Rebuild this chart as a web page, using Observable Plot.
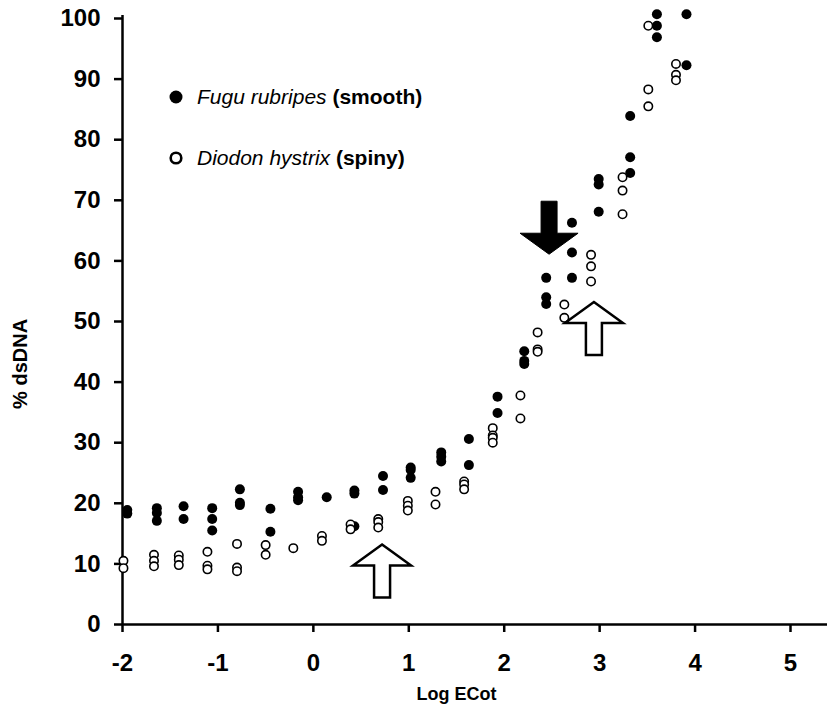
<!DOCTYPE html>
<html>
<head>
<meta charset="utf-8">
<script src="https://cdn.jsdelivr.net/npm/d3@7"></script>
<script src="https://cdn.jsdelivr.net/npm/@observablehq/plot@0.6"></script>
<style>
  body { margin: 0; background: #fff; }
  #wrap { position: relative; width: 827px; height: 720px; font-family: "Liberation Sans", Arial, sans-serif; }
  #legend { position: absolute; left: 165px; top: 82px; font-size: 21px; color: #000; }
  #legend .row { display: flex; align-items: center; height: 30px; margin-bottom: 31px; white-space: nowrap; }
  #legend svg { width: 22px; height: 22px; margin-right: 10px; }
  #legend i { font-style: italic; }
  #legend b { font-weight: bold; }
  g[aria-label="x-axis tick"], g[aria-label="y-axis tick"] { stroke-width: 2.5px; }
  g[aria-label="x-axis tick label"], g[aria-label="y-axis tick label"] { font-size: 24px; font-weight: bold; }
  .tick line { stroke-width: 2.5px; }
  .tick text { font-size: 24px; font-weight: bold; }
</style>
</head>
<body>
<div id="wrap">
  <div id="chart"></div>
  <div id="legend"></div>
</div>
<script>
// Fugu rubripes (smooth) — filled circles
const fuguLogECot = [
  -1.95, -1.95,
  -1.64, -1.64, -1.64,
  -1.36, -1.36,
  -1.06, -1.06, -1.06,
  -0.77, -0.77, -0.77,
  -0.45, -0.45,
  -0.16, -0.16, -0.16,
  0.14,
  0.43, 0.43, 0.43,
  0.73, 0.73,
  1.02, 1.02, 1.02,
  1.34, 1.34, 1.34,
  1.63, 1.63,
  1.93, 1.93,
  2.21, 2.21, 2.21,
  2.44, 2.44, 2.44,
  2.71, 2.71, 2.71,
  2.99, 2.99, 2.99,
  3.32, 3.32, 3.32,
  3.60, 3.60, 3.60,
  3.91, 3.91
];
const fuguDsDNA = [
  18.9, 18.3,
  19.2, 18.4, 17.1,
  19.5, 17.4,
  19.2, 17.4, 15.5,
  22.3, 20.1, 19.7,
  19.1, 15.3,
  21.9, 21.0, 20.5,
  21.0,
  22.1, 21.6, 16.2,
  24.5, 22.2,
  25.9, 25.5, 24.2,
  28.4, 27.7, 26.9,
  30.6, 26.3,
  37.6, 34.9,
  45.1, 43.5, 43.0,
  57.2, 54.0, 52.9,
  66.3, 61.4, 57.2,
  73.5, 72.6, 68.1,
  83.9, 77.1, 74.5,
  100.7, 98.8, 96.9,
  100.7, 92.3
];
// Diodon hystrix (spiny) — open circles
const diodonLogECot = [
  -1.99, -1.99,
  -1.67, -1.67, -1.67,
  -1.41, -1.41, -1.41,
  -1.11, -1.11, -1.11,
  -0.80, -0.80, -0.80,
  -0.50, -0.50,
  -0.21,
  0.09, 0.09,
  0.39, 0.39,
  0.68, 0.68, 0.68,
  0.99, 0.99, 0.99,
  1.28, 1.28,
  1.58, 1.58, 1.58,
  1.88, 1.88, 1.88, 1.88,
  2.17, 2.17,
  2.35, 2.35, 2.35,
  2.63, 2.63,
  2.91, 2.91, 2.91,
  3.24, 3.24, 3.24,
  3.51, 3.51, 3.51,
  3.80, 3.80, 3.80
];
const diodonDsDNA = [
  10.5, 9.3,
  11.5, 10.5, 9.6,
  11.4, 10.7, 9.8,
  12.0, 9.7, 9.1,
  13.3, 9.4, 8.8,
  13.1, 11.5,
  12.6,
  14.6, 13.8,
  16.5, 15.7,
  17.4, 16.9, 16.0,
  20.4, 19.6, 18.8,
  21.9, 19.8,
  23.6, 23.1, 22.3,
  32.4, 31.2, 30.8, 30.0,
  37.8, 34.0,
  48.2, 45.4, 45.0,
  52.8, 50.6,
  61.0, 59.1, 56.6,
  73.8, 71.6, 67.7,
  98.8, 88.3, 85.5,
  92.5, 90.7, 89.8
];
// Arrow annotations (tip positions, data units)
const openArrowLogECot = [0.72, 2.94];
const openArrowDsDNA = [13.2, 53.2];
const filledArrowLogECot = [2.47];
const filledArrowDsDNA = [61.1];

const xTicks = [-2, -1, 0, 1, 2, 3, 4, 5];
const yTicks = [0, 10, 20, 30, 40, 50, 60, 70, 80, 90, 100];
const xLabel = "Log ECot";
const yLabel = "% dsDNA";
const legendSpecies = ["Fugu rubripes", "Diodon hystrix"];
const legendTraits = ["(smooth)", "(spiny)"];

const fugu = fuguLogECot.map((x, i) => ({x, y: fuguDsDNA[i]}));
const diodon = diodonLogECot.map((x, i) => ({x, y: diodonDsDNA[i]}));
const openArrows = openArrowLogECot.map((x, i) => ({x, y: openArrowDsDNA[i]}));
const filledArrows = filledArrowLogECot.map((x, i) => ({x, y: filledArrowDsDNA[i]}));

function arrowSymbol(dir) {
  return {
    draw(ctx) {
      const s = dir; // 1 = pointing up, -1 = pointing down (tip at origin)
      ctx.moveTo(0, 0);
      ctx.lineTo(29, 21 * s);
      ctx.lineTo(8, 21 * s);
      ctx.lineTo(8, 53 * s);
      ctx.lineTo(-8, 53 * s);
      ctx.lineTo(-8, 21 * s);
      ctx.lineTo(-29, 21 * s);
      ctx.closePath();
    }
  };
}

const W = 827, H = 720, ML = 122, MR = 0, MT = 18, MB = 96;
const pxPerUnit = 668 / 7;
const xMax = 5 + (W - MR - (ML + 668)) / pxPerUnit;

const chart = Plot.plot({
  width: W,
  height: H,
  marginLeft: ML,
  marginRight: MR,
  marginTop: MT,
  marginBottom: MB,
  style: {fontFamily: "'Liberation Sans', Arial, sans-serif", fontSize: "24px", fontWeight: "bold", color: "#000", background: "#fff"},
  x: {domain: [-2, xMax], ticks: xTicks, tickFormat: d => `${d}`, tickSize: 8, tickPadding: 21, label: null},
  y: {domain: [0, 100], ticks: yTicks, tickFormat: d => `${d}`, tickSize: 8, tickPadding: 14, label: null},
  marks: [
    Plot.ruleY([0], {stroke: "#000", strokeWidth: 2.5}),
    Plot.ruleX([-2], {y1: 0, y2: 100.5, stroke: "#000", strokeWidth: 2.5}),
    Plot.dot(fugu, {x: "x", y: "y", r: 5, fill: "#000", stroke: "none"}),
    Plot.dot(diodon, {x: "x", y: "y", r: 4.2, fill: "#fff", stroke: "#000", strokeWidth: 1.6}),
    Plot.dot(openArrows, {x: "x", y: "y", r: 5, symbol: arrowSymbol(1), fill: "#fff", stroke: "#000", strokeWidth: 2.5}),
    Plot.dot(filledArrows, {x: "x", y: "y", r: 5, symbol: arrowSymbol(-1), fill: "#000", stroke: "#000", strokeWidth: 1}),
    Plot.text([xLabel], {x: 1.5, y: -11.5, text: d => d, fontSize: 18, fontWeight: "bold", fill: "#000"}),
    Plot.text([yLabel], {x: -3.07, y: 43, text: d => d, rotate: -90, fontSize: 20, fontWeight: "bold", fill: "#000"})
  ]
});
document.getElementById("chart").appendChild(chart);

const legend = document.getElementById("legend");
legendSpecies.forEach((sp, i) => {
  const row = document.createElement("div");
  row.className = "row";
  const sym = i === 0
    ? '<svg viewBox="0 0 22 22"><circle cx="11" cy="11" r="6.5" fill="#000"/></svg>'
    : '<svg viewBox="0 0 22 22"><circle cx="11" cy="11" r="5.3" fill="#fff" stroke="#000" stroke-width="2.6"/></svg>';
  row.innerHTML = sym + `<i>${sp}</i>&nbsp;<b>${legendTraits[i]}</b>`;
  legend.appendChild(row);
});
</script>
</body>
</html>
